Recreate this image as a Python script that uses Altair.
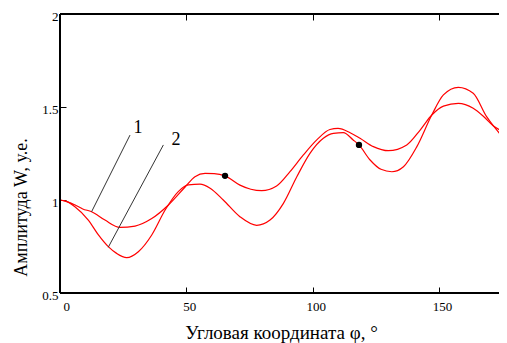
import altair as alt
import pandas as pd

# Curve 1
x1 = [0, 3, 6, 9, 12.5, 17.8, 23.7, 29.7, 36.3, 42.9, 49.5, 53.4, 57.4, 61, 65.3, 71.2, 75.5, 79.8,
      85.7, 91, 96.3, 101.6, 106.8, 110, 114.8, 118.7, 124, 129.9, 137.2, 142.5, 147.1, 151.7, 157.6,
      163.5, 167.5, 171.5, 176.8, 180]
y1 = [1.0, 0.99, 0.973, 0.952, 0.937, 0.892, 0.853, 0.86, 0.90, 0.973, 1.07, 1.125, 1.143, 1.142, 1.13,
      1.08, 1.058, 1.05, 1.075, 1.152, 1.242, 1.323, 1.379, 1.385, 1.362, 1.332, 1.287, 1.265, 1.296,
      1.376, 1.457, 1.505, 1.52, 1.493, 1.45, 1.398, 1.359, 1.34]
# Curve 2
x2 = [0, 2, 5.9, 11.2, 15.2, 19.1, 22.4, 26.4, 31, 36.3, 41.6, 46.8, 50.8, 55.4, 59.4, 64.6, 71.2, 77.8,
      83.1, 88.4, 93.7, 98.9, 104.2, 108.2, 112.1, 116, 118.3, 122.7, 127, 131.3, 135.9, 141.2, 147.1,
      151.7, 157.6, 163.5, 168.8, 171.5, 176.8, 180]
y2 = [1.0, 0.995, 0.964, 0.892, 0.812, 0.749, 0.713, 0.69, 0.722, 0.812, 0.946, 1.045, 1.081, 1.085,
      1.063, 1.0, 0.91, 0.864, 0.892, 0.982, 1.125, 1.251, 1.332, 1.358, 1.362, 1.323, 1.296, 1.215,
      1.165, 1.152, 1.179, 1.287, 1.457, 1.565, 1.606, 1.574, 1.448, 1.398, 1.319, 1.29]

# Marked points
dot_x = [65.3, 118.3]
dot_y = [1.13, 1.296]

# Curve labels and leader lines
lab_text = ["1", "2"]
lab_x = [30.9, 45.9]
lab_y = [1.387, 1.323]
lead_x = [12.5, 19.1]
lead_y = [0.937, 0.746]
lead_x2 = [27.7, 40.9]
lead_y2 = [1.349, 1.296]

x_ticks = [0, 50, 100, 150]
y_ticks = [0.5, 1, 1.5, 2]

curves = pd.concat([
    pd.DataFrame({"x": x1, "y": y1, "s": "1"}),
    pd.DataFrame({"x": x2, "y": y2, "s": "2"}),
])
dots = pd.DataFrame({"x": dot_x, "y": dot_y})
labels = pd.DataFrame({"x": lab_x, "y": lab_y, "t": lab_text})
leads = pd.DataFrame({"x": lead_x, "y": lead_y, "x2": lead_x2, "y2": lead_y2})

FONT = "Liberation Serif"
W, H = 439, 279
xs = alt.Scale(domain=[0, 173.7], nice=False, zero=False)
ys = alt.Scale(domain=[0.5, 2], nice=False, zero=False)

common_axis = dict(domain=False, grid=False, ticks=True, tickSize=6, tickColor="black", tickWidth=1,
                   offset=-6, labelFontSize=13, labelColor="black",
                   titleFontWeight="normal", titleColor="black")

x_axis_bottom = alt.Axis(orient="bottom", values=x_ticks, labelPadding=7, labelOffset=3, format="~r",
                         title="Угловая координата φ, °", titleX=221, titleY=51, titleFontSize=19,
                         titleBaseline="alphabetic", titleAnchor="middle", titleAlign="center",
                         **common_axis)
x_axis_top = alt.Axis(orient="top", values=x_ticks, labels=False, title=None, **common_axis)
y_axis = alt.Axis(orient="left", values=y_ticks, labelPadding=2, labelOffset=2, format="~r",
                  title="Амплитуда W, у.е.", titleX=-40, titleY=193, titleAngle=270, titleFontSize=18,
                  titleBaseline="alphabetic", titleAlign="center", **common_axis)

lines = alt.Chart(curves).mark_line(color="#ff0000", strokeWidth=1.2, interpolate="monotone",
                                    clip=True).encode(
    x=alt.X("x:Q", scale=xs, axis=x_axis_bottom),
    y=alt.Y("y:Q", scale=ys, axis=y_axis),
    detail="s:N",
)
top = alt.Chart(curves).mark_line(opacity=0, clip=True).encode(
    x=alt.X("x:Q", scale=xs, axis=x_axis_top),
    y=alt.Y("y:Q", scale=ys, axis=y_axis),
    detail="s:N",
)
pts = alt.Chart(dots).mark_circle(color="black", size=40, opacity=1).encode(
    x=alt.X("x:Q", scale=xs, axis=None),
    y=alt.Y("y:Q", scale=ys, axis=y_axis),
)
rules = alt.Chart(leads).mark_rule(color="#333333", strokeWidth=1).encode(
    x=alt.X("x:Q", scale=xs, axis=None),
    y=alt.Y("y:Q", scale=ys, axis=y_axis),
    x2="x2:Q",
    y2="y2:Q",
)
texts = alt.Chart(labels).mark_text(font=FONT, fontSize=18, color="black").encode(
    x=alt.X("x:Q", scale=xs, axis=None),
    y=alt.Y("y:Q", scale=ys, axis=y_axis),
    text="t:N",
)
# frame lines (top, left, bottom)
frame_top = alt.Chart(dots).mark_rule(color="black", strokeWidth=2).encode(
    x=alt.value(0), x2=alt.value(W), y=alt.value(0))
frame_left = alt.Chart(dots).mark_rule(color="black", strokeWidth=2).encode(
    x=alt.value(0), y=alt.value(0), y2=alt.value(H))
frame_bottom = alt.Chart(dots).mark_rule(color="black", strokeWidth=2).encode(
    x=alt.value(0), x2=alt.value(W), y=alt.value(H))

chart = alt.layer(lines, top, rules, pts, texts, frame_top, frame_left, frame_bottom).resolve_axis(
    x="independent").properties(
    width=W, height=H,
    autosize=alt.AutoSizeParams(type="none"),
    padding={"left": 52, "top": 6, "right": 0, "bottom": 50},
    background="white",
).configure_view(stroke=None).configure_axis(labelFont=FONT, titleFont=FONT)

chart.save("out.html", embed_options={"renderer": "svg", "actions": False})
